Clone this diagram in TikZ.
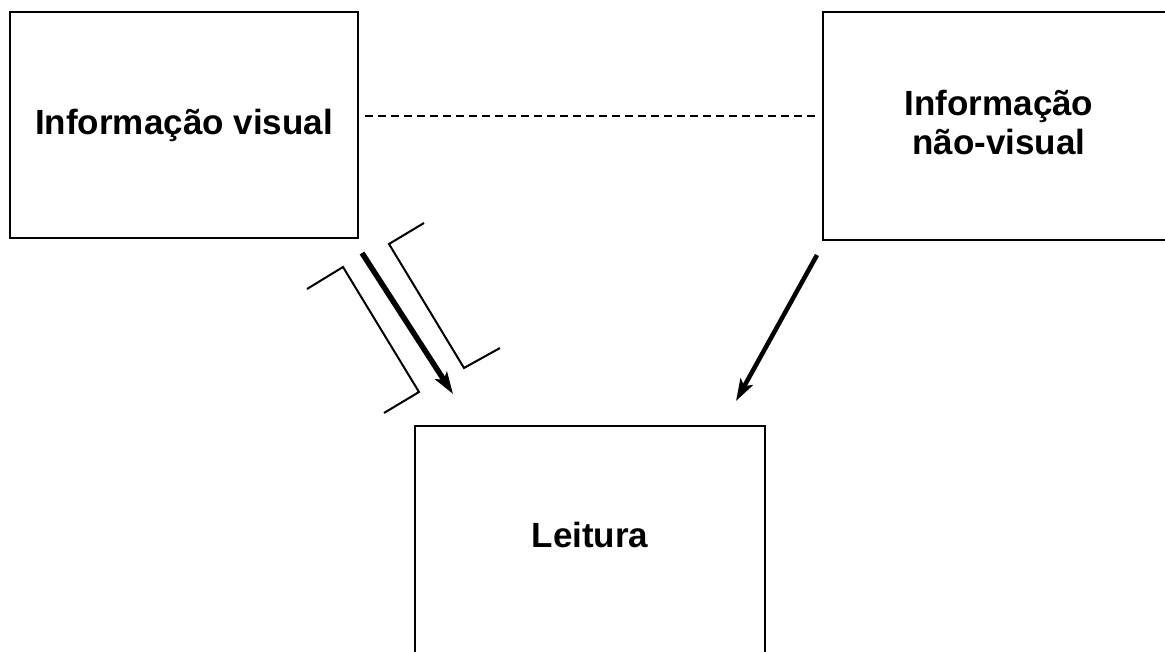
\documentclass[tikz,border=0pt]{standalone}
\usepackage{fontspec}
\setmainfont{Liberation Sans}
\usetikzlibrary{arrows.meta}
\begin{document}
\begin{tikzpicture}[x=1pt,y=-1pt,
  box/.style={draw=black, line width=2.4pt, rectangle, inner sep=0pt},
  lbl/.style={font=\bfseries\fontsize{35}{37}\selectfont, align=center, inner sep=0pt},
  dashline/.style={line width=2pt, dash pattern=on 8pt off 5pt},
  bigarrow/.style={line width=5.5pt, -{Stealth[length=22pt,width=14pt,inset=5pt]}},
  midarrow/.style={line width=4.5pt, -{Stealth[length=22pt,width=14pt,inset=5pt]}},
  bracket/.style={line width=2pt, line join=miter}]
\useasboundingbox (0,0) rectangle (1165,652);
\clip (0,0) rectangle (1165,652);
\fill[white] (0,0) rectangle (1165,652);
% boxes
\node[box, minimum width=348pt, minimum height=226pt] (vis) at (184,125) {};
\node[lbl] (vistxt) at (184,125) {Informação visual};
\node[box, minimum width=352pt, minimum height=228pt] (nvis) at (999,126) {};
\node[lbl] (nvistxt) at (999,122) {Informação\\[2pt]não-visual};
\node[box, minimum width=350pt, minimum height=260pt, anchor=north] (lei) at (590,425) {};
\node[lbl] (leitxt) at (590,535) {Leitura};
% dashed connector
\draw[dashline, shorten <=6pt, shorten >=3pt] ([yshift=9pt]vis.east) -- ([yshift=9pt]vis.east -| nvis.west);
% arrows
\coordinate (a1s) at (362,253);
\coordinate (a1e) at (453,394);
\coordinate (a2s) at (817,255);
\coordinate (a2e) at (736,401);
\draw[bigarrow] (a1s) -- (a1e);
\draw[midarrow] (a2s) -- (a2e);
% brackets
\draw[bracket] (307,289) -- (343,267) -- (419,392) -- (384,413);
\draw[bracket] (424,223) -- (389,244) -- (464,368) -- (500,348);
\end{tikzpicture}
\end{document}
